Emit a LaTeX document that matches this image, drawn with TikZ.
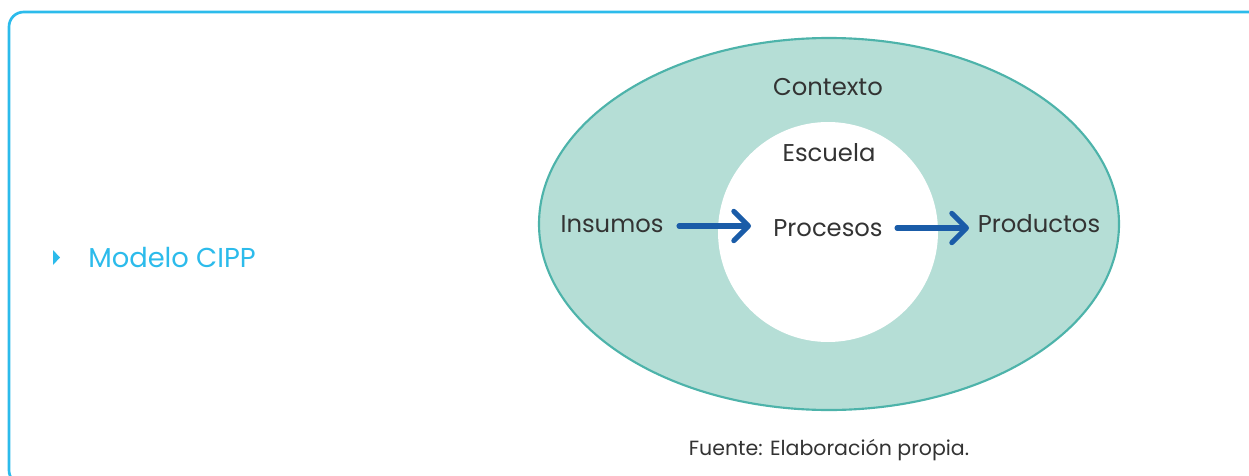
\documentclass[tikz,border=0pt]{standalone}
\usepackage{fontspec}
\setmainfont{Poppins}
\usetikzlibrary{arrows.meta}
\definecolor{framecyan}{HTML}{2CBBEB}
\definecolor{ctxfill}{HTML}{B5DED6}
\definecolor{ctxline}{HTML}{4DB3AA}
\definecolor{arrowblue}{HTML}{1A5CA8}
\definecolor{txt}{HTML}{333333}
\tikzset{
  lbl/.style={text=txt, font=\fontsize{18.2}{21}\selectfont, inner sep=0pt},
  flow/.style={draw=arrowblue, line width=3.8pt, line cap=round,
    -{Straight Barb[length=11pt, width=22pt, line cap=round, line join=round]}},
}
\begin{document}
\begin{tikzpicture}[x=0.75pt,y=-0.75pt]
\useasboundingbox (0,0) rectangle (1249,475);
\clip (0,0) rectangle (1249,475);
\draw[framecyan, line width=2pt, rounded corners=11pt] (9,12) rectangle (1275,485);
\fill[framecyan] (53,250) -- (60,257.5) -- (53,265) -- cycle;
\node[anchor=west, text=framecyan, font=\fontsize{20.5}{24}\selectfont, inner sep=0pt] (title) at (88,258) {Modelo CIPP};
\draw[ctxline, fill=ctxfill, line width=1.6pt] (829,224) ellipse [x radius=290, y radius=186];
\fill[white] (828,232) circle [radius=110];
\node[lbl] (ctx) at (828,87) {Contexto};
\node[lbl] (esc) at (829,153) {Escuela};
\node[lbl] (ins) at (612,224) {Insumos};
\node[lbl] (pro) at (828,228) {Procesos};
\node[lbl] (prd) at (1039,224) {Productos};
\coordinate (a1s) at (679,226);
\coordinate (a1e) at (751,226);
\coordinate (a2s) at (897,228);
\coordinate (a2e) at (969,228);
\draw[flow] (a1s) -- (a1e);
\draw[flow] (a2s) -- (a2e);
\node[text=txt, font=\fontsize{15.4}{18}\selectfont, inner sep=0pt] (src) at (829,450) {Fuente: Elaboración propia.};
\end{tikzpicture}
\end{document}
